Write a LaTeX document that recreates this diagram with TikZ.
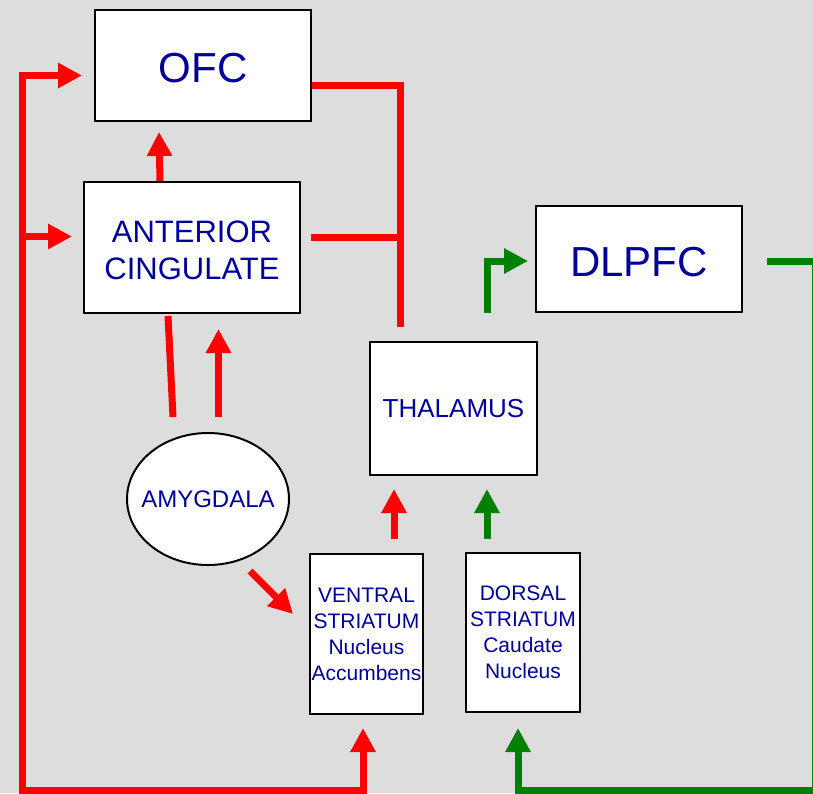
\documentclass[tikz,border=0pt]{standalone}
\usepackage{fontspec}
\setmainfont{Liberation Sans}
\usetikzlibrary{arrows.meta,shapes.geometric}
\definecolor{bg}{RGB}{221,221,221}
\definecolor{lbl}{RGB}{0,0,153}
\definecolor{pathred}{RGB}{255,0,0}
\definecolor{pathgreen}{RGB}{0,128,0}
\begin{document}
\begin{tikzpicture}[x=1pt,y=-1pt,
  >={Triangle[length=24pt,width=24pt]},
  region/.style={draw=black, line width=2pt, fill=white, text=lbl,
    inner sep=0pt, align=center},
  redline/.style={draw=pathred, line width=7pt},
  greenline/.style={draw=pathgreen, line width=7pt}]

% canvas
\fill[bg] (0,0) rectangle (813,793);
\useasboundingbox (0,0) rectangle (813,793);

% brain regions
\node[region, minimum width=216pt, minimum height=111pt, text height=34pt, text depth=0pt,
  font=\fontsize{42}{46}\selectfont] (ofc) at (203,65.5) {OFC};
\node[region, minimum width=216pt, minimum height=131pt,
  label={[text=lbl, align=center, inner sep=0pt, yshift=-3pt,
    font=\fontsize{31}{37}\selectfont]center:ANTERIOR\\CINGULATE}]
  (acc) at (192,247.5) {};
\node[region, minimum width=206pt, minimum height=106pt, text height=35pt, text depth=0pt,
  font=\fontsize{42}{46}\selectfont] (dlpfc) at (639,259) {DLPFC};
\node[region, minimum width=167pt, minimum height=133pt,
  font=\fontsize{26}{30}\selectfont] (thal) at (453.5,408.5) {THALAMUS};
\node[region, ellipse, minimum width=162pt, minimum height=132pt,
  font=\fontsize{24}{28}\selectfont] (amyg) at (208,499) {\makebox[0pt]{AMYGDALA}};
\node[region, minimum width=113pt, minimum height=160pt,
  font=\fontsize{21}{26}\selectfont] (vs) at (366.5,634)
  {VENTRAL\\STRIATUM\\Nucleus\\Accumbens};
\node[region, minimum width=114pt, minimum height=159pt,
  font=\fontsize{21}{26}\selectfont] (ds) at (523,632.5)
  {DORSAL\\STRIATUM\\Caudate\\Nucleus};

% connector end points
\coordinate (vsIn)   at ([xshift=-3.5pt,yshift=-13pt]vs.south);
\coordinate (redBL)  at (22.5,790);
\coordinate (ofcIn)  at ([xshift=-12pt,yshift=-10pt]ofc.west);
\coordinate (accIn)  at ([xshift=-11pt,yshift=11pt]acc.west);
\coordinate (thalIn) at (400.5,327);
\coordinate (accOut) at ([xshift=10pt,yshift=10.5pt]acc.east);
\coordinate (dlOut)  at ([xshift=24pt,yshift=-2pt]dlpfc.east);
\coordinate (grBR)   at (815,790);
\coordinate (dsIn)   at ([xshift=-5pt,yshift=-15pt]ds.south);

% red (limbic) loop
\draw[redline,<->] (vsIn) |- (redBL) |- (ofcIn);
\draw[redline,->] (redBL |- accIn) -- (accIn);
\draw[redline] ([yshift=-20pt]ofc.east) -| (thalIn);
\draw[redline] (accOut) -- (accOut -| thalIn);
\draw[redline,->] ([xshift=-32pt]acc.north) -- ([xshift=-44pt,yshift=-10pt]ofc.south);
\draw[redline] ([xshift=-35pt,yshift=15pt]amyg.north) -- ([xshift=-24pt,yshift=-2pt]acc.south);
\draw[redline,->] ([xshift=10.5pt,yshift=15pt]amyg.north) -- ([xshift=26.5pt,yshift=-15pt]acc.south);
\draw[redline,->] ([xshift=42pt,yshift=-72pt]amyg.center) -- ([xshift=-16pt,yshift=20pt]vs.west);
\draw[redline,->] ([xshift=27.5pt,yshift=14pt]vs.north) -- ([xshift=-59.5pt,yshift=-13pt]thal.south);

% green (cognitive) loop
\draw[greenline,->] ([xshift=-36pt,yshift=13pt]ds.north) -- ([xshift=33.5pt,yshift=-13pt]thal.south);
\draw[greenline,->] ([xshift=33.5pt,yshift=28pt]thal.north) |- ([xshift=-7pt,yshift=-2pt]dlpfc.west);
\draw[greenline,->] (dlOut) -| (grBR) -| (dsIn);
\end{tikzpicture}
\end{document}
